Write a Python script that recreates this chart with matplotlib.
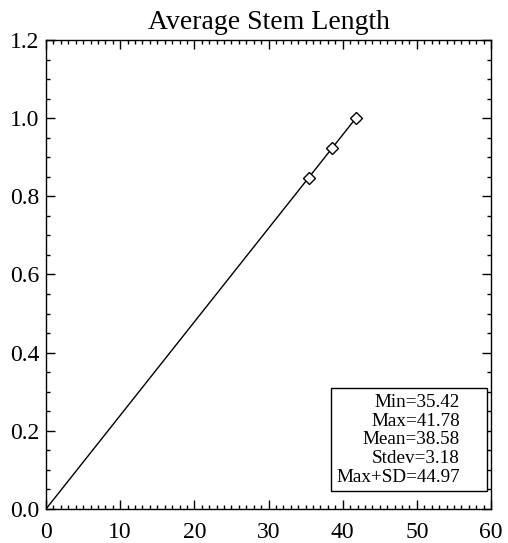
import matplotlib
matplotlib.use("Agg")
import matplotlib.pyplot as plt
from matplotlib.ticker import MultipleLocator
from matplotlib.patches import Rectangle
import matplotlib.transforms as mtransforms

plt.rcParams['font.family'] = ['Liberation Serif', 'DejaVu Serif']

title = "Average Stem Length"
line_x = [0.0, 35.42, 38.58, 41.78]
line_y = [0.0, 0.8478, 0.9234, 1.0]
point_x = [35.42, 38.58, 41.78]
point_y = [0.8478, 0.9234, 1.0]
stats_labels = ["Min=35.42", "Max=41.78", "Mean=38.58", "Stdev=3.18", "Max+SD=44.97"]

W, H = 508, 543
L, R, T, B = 46, 491, 40, 509
fig = plt.figure(figsize=(W/100, H/100), dpi=100)
ax = fig.add_axes([L/W, 1 - B/H, (R-L)/W, (B-T)/H])

ax.plot(line_x, line_y, color='black', lw=1.0)
ax.plot(point_x, point_y, linestyle='none', marker='D', markersize=6.5,
        markerfacecolor='white', markeredgecolor='black', markeredgewidth=1.0)

ax.set_xlim(0, 60)
ax.set_ylim(0, 1.2)
ax.xaxis.set_major_locator(MultipleLocator(10))
ax.xaxis.set_minor_locator(MultipleLocator(1))
ax.yaxis.set_major_locator(MultipleLocator(0.2))
ax.yaxis.set_minor_locator(MultipleLocator(0.05))
ax.yaxis.set_major_formatter(plt.FuncFormatter(lambda v, p: f"{v:.1f}"))
ax.tick_params(which='both', direction='in', top=True, right=True, width=1.0, labelsize=17)
ax.tick_params(which='major', length=6.2)
ax.tick_params(which='minor', length=3.2)
ax.tick_params(axis='x', which='major', pad=9)
ax.tick_params(axis='y', which='major', pad=5)
for s in ax.spines.values():
    s.set_linewidth(1.0)

ax.set_title(title, fontsize=20, pad=8)

# nudge bottom y label up slightly, as in the reference
fig.canvas.draw()
ylabels = ax.get_yticklabels()
if ylabels:
    ylabels[0].set_transform(ylabels[0].get_transform() +
                             mtransforms.ScaledTranslation(0, 5/100, fig.dpi_scale_trans))

def fx(px):
    return (px - L) / (R - L)

def fy(py):
    return (B - py) / (B - T)

ax.add_patch(Rectangle((fx(331), fy(491)), fx(487) - fx(331), fy(388) - fy(491),
                       transform=ax.transAxes, facecolor='white', edgecolor='black',
                       linewidth=1.0, zorder=5))
for i, lab in enumerate(stats_labels):
    ax.text(fx(460), fy(406.7 + i * 18.8), lab, transform=ax.transAxes,
            ha='right', va='baseline', fontsize=13.8, zorder=6)

fig.savefig("out.png", dpi=100)
